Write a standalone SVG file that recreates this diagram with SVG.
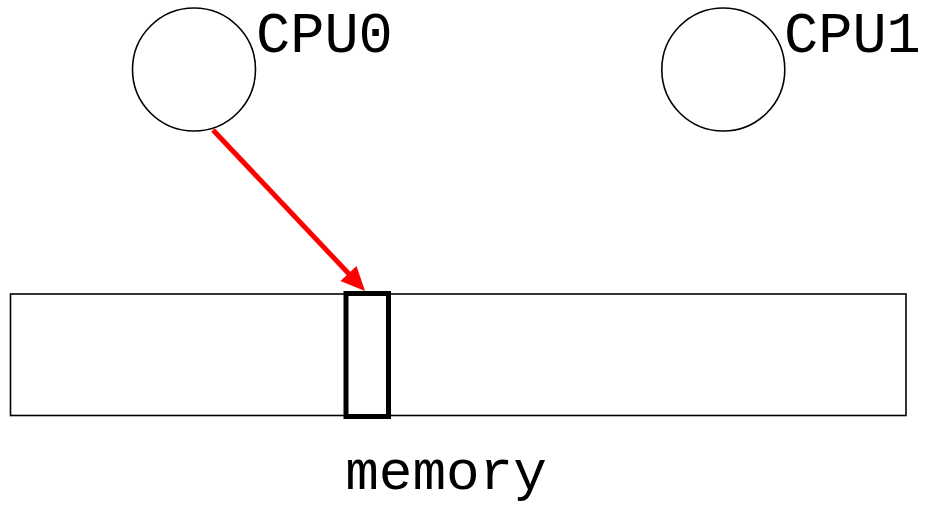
<svg xmlns="http://www.w3.org/2000/svg" width="928" height="508" viewBox="0 0 928 508">
<style>
.node{fill:#fff;stroke:#000;stroke-width:1.6}
.lbl{font-family:"Liberation Mono","Courier New",monospace;font-size:57px;fill:#000}
</style>
<rect width="928" height="508" fill="#fff"/>
<g id="memory">
<rect class="node" x="10.5" y="294" width="895.5" height="121.5"/>
<text class="lbl" x="446" y="489" text-anchor="middle" style="font-size:56px">memory</text>
</g>
<g id="cell">
<rect x="346" y="293.5" width="42.5" height="123" fill="none" stroke="#000" stroke-width="5"/>
</g>
<g id="cpu0">
<circle class="node" cx="194" cy="69.5" r="61.5"/>
<text class="lbl" x="256" y="52">CPU0</text>
</g>
<g id="cpu1">
<circle class="node" cx="723.3" cy="69.5" r="61.5"/>
<text class="lbl" x="784" y="52">CPU1</text>
</g>
<g id="connectors">
<line x1="213" y1="130" x2="350" y2="275" stroke="#f00" stroke-width="5"/>
<polygon points="365,291 340.5,281.1 356.5,265.9" fill="#f00"/>
</g>
</svg>
